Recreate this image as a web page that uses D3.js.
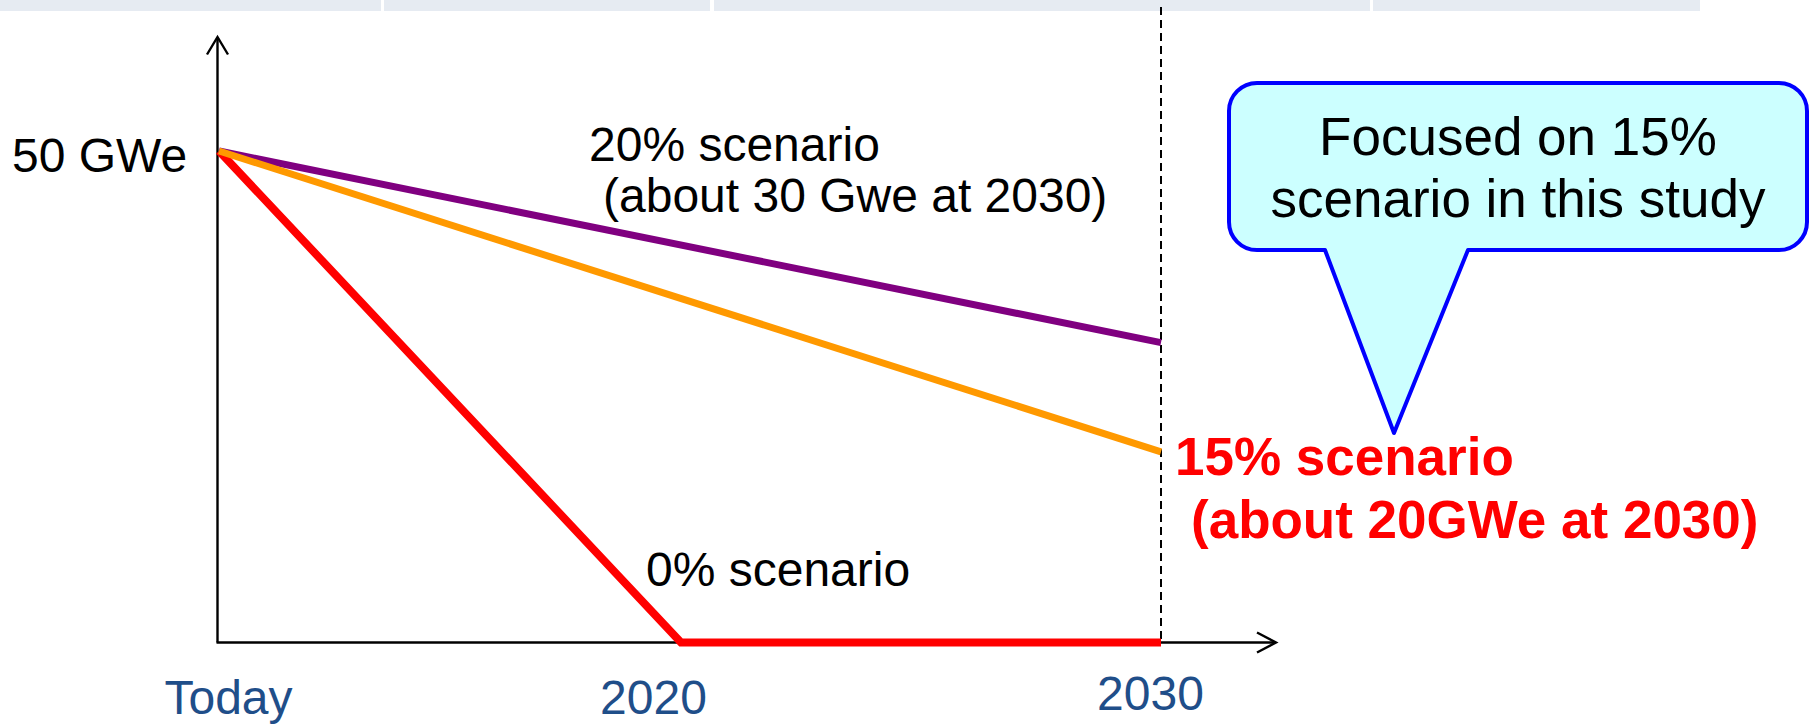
<!DOCTYPE html>
<html>
<head>
<meta charset="utf-8">
<script src="https://cdn.jsdelivr.net/npm/d3@7"></script>
<style>
  html, body { margin: 0; padding: 0; background: #fff; }
  svg { display: block; font-family: "Liberation Sans", Arial, sans-serif; }
</style>
</head>
<body>
<svg id="chart" width="1810" height="725"></svg>
<script>
// categories along the time axis
const categories = ['Today', '2020', '2030']
// GWe at each category (null = no point there, the line runs straight through)
const scenario20 = [50, null, 30.5]
const scenario15 = [50, null, 19.4]
const scenario0 = [50, 0, 0]
const yTopLabel = '50 GWe'
const calloutLines = ['Focused on 15%', 'scenario in this study']

const svg = d3.select('#chart')

// slide header strip
const strip = [[0, 381], [384, 710], [714, 1370], [1373, 1700]]
svg.selectAll('rect.strip').data(strip).enter().append('rect')
  .attr('class', 'strip')
  .attr('x', d => d[0]).attr('y', 0)
  .attr('width', d => d[1] - d[0]).attr('height', 11)
  .attr('fill', '#e6ebf2')

// scales - spacing between categories is not even in the original
const x = d3.scaleLinear().domain([0, 1, 2]).range([219, 681, 1161])
const y = d3.scaleLinear().domain([0, 50]).range([642.5, 151])
const x0 = 217.5

// dashed 2030 marker
svg.append('line')
  .attr('x1', x(2)).attr('x2', x(2))
  .attr('y1', 7).attr('y2', y(0))
  .attr('stroke', '#000').attr('stroke-width', 2)
  .attr('stroke-dasharray', '8,5')

// axes with open arrow heads
const axisG = svg.append('g').attr('fill', 'none').attr('stroke', '#000').attr('stroke-width', 2.4)
axisG.append('path').attr('d', `M${x0},${y(0)}V37`)
axisG.append('path').attr('d', `M${x0 - 10.5},54.5L${x0},37L${x0 + 10.5},54.5`)
axisG.append('path').attr('d', `M${x0 - 1},${y(0)}H1275`)
axisG.append('path').attr('d', `M1257,${y(0) - 10}L1276,${y(0)}L1257,${y(0) + 10}`)

// scenario lines
const series = [
  {name: '0%', values: scenario0, color: '#ff0000', width: 8},
  {name: '20%', values: scenario20, color: '#800080', width: 7},
  {name: '15%', values: scenario15, color: '#ff9900', width: 7}
]
const line = d3.line().x(d => x(d.i)).y(d => y(d.v))
svg.selectAll('path.series').data(series).enter().append('path')
  .attr('class', 'series')
  .attr('d', s => line(s.values.map((v, i) => ({i, v})).filter(p => p.v != null)))
  .attr('fill', 'none')
  .attr('stroke', s => s.color)
  .attr('stroke-width', s => s.width)
  .attr('stroke-linejoin', 'miter')

// tick labels (hand nudged like the slide)
const tickNudge = {'Today': [9, 0], '2020': [-28, 0], '2030': [-11, -4]}
const xAxis = d3.axisBottom(d3.scaleOrdinal().domain(categories).range(categories.map((c, i) => x(i))))
  .tickSize(0).tickPadding(0)
const gx = svg.append('g').attr('transform', 'translate(0,714)').call(xAxis)
gx.select('.domain').remove()
gx.selectAll('text')
  .attr('y', 0).attr('dy', 0)
  .attr('dx', d => tickNudge[d][0])
  .attr('transform', d => `translate(0,${tickNudge[d][1]})`)
  .attr('fill', '#1f4e89')
  .attr('font-family', '"Liberation Sans", Arial, sans-serif')
  .attr('font-size', 48)

// y label
svg.append('text').attr('x', 12).attr('y', 172)
  .attr('font-size', 48).attr('fill', '#000').text(yTopLabel)

// scenario annotations
const notes = [
  {t: '20% scenario', x: 589, y: 161, size: 48, color: '#000', weight: 'normal'},
  {t: '(about 30 Gwe at 2030)', x: 603, y: 212, size: 48, color: '#000', weight: 'normal'},
  {t: '0% scenario', x: 646, y: 586, size: 48, color: '#000', weight: 'normal'},
  {t: '15% scenario', x: 1175, y: 475, size: 53, color: '#ff0000', weight: 'bold'},
  {t: '(about 20GWe at 2030)', x: 1191, y: 538, size: 53, color: '#ff0000', weight: 'bold'}
]
svg.selectAll('text.note').data(notes).enter().append('text')
  .attr('class', 'note')
  .attr('x', d => d.x).attr('y', d => d.y)
  .attr('font-size', d => d.size)
  .attr('font-weight', d => d.weight)
  .attr('fill', d => d.color)
  .text(d => d.t)

// callout bubble
const bx0 = 1229, by0 = 83, bx1 = 1807, by1 = 250, r = 28
const bubble = `M${bx0 + r},${by0}H${bx1 - r}A${r},${r} 0 0 1 ${bx1},${by0 + r}` +
  `V${by1 - r}A${r},${r} 0 0 1 ${bx1 - r},${by1}H1468L1394,433L1325,${by1}` +
  `H${bx0 + r}A${r},${r} 0 0 1 ${bx0},${by1 - r}V${by0 + r}A${r},${r} 0 0 1 ${bx0 + r},${by0}Z`
svg.append('path').attr('d', bubble)
  .attr('fill', '#ccffff').attr('stroke', '#0000ff').attr('stroke-width', 4)
  .attr('stroke-linejoin', 'round')
svg.selectAll('text.callout').data(calloutLines).enter().append('text')
  .attr('class', 'callout')
  .attr('x', (bx0 + bx1) / 2).attr('y', (d, i) => 155 + i * 62)
  .attr('text-anchor', 'middle')
  .attr('font-size', 53).attr('fill', '#000')
  .text(d => d)
</script>
</body>
</html>
